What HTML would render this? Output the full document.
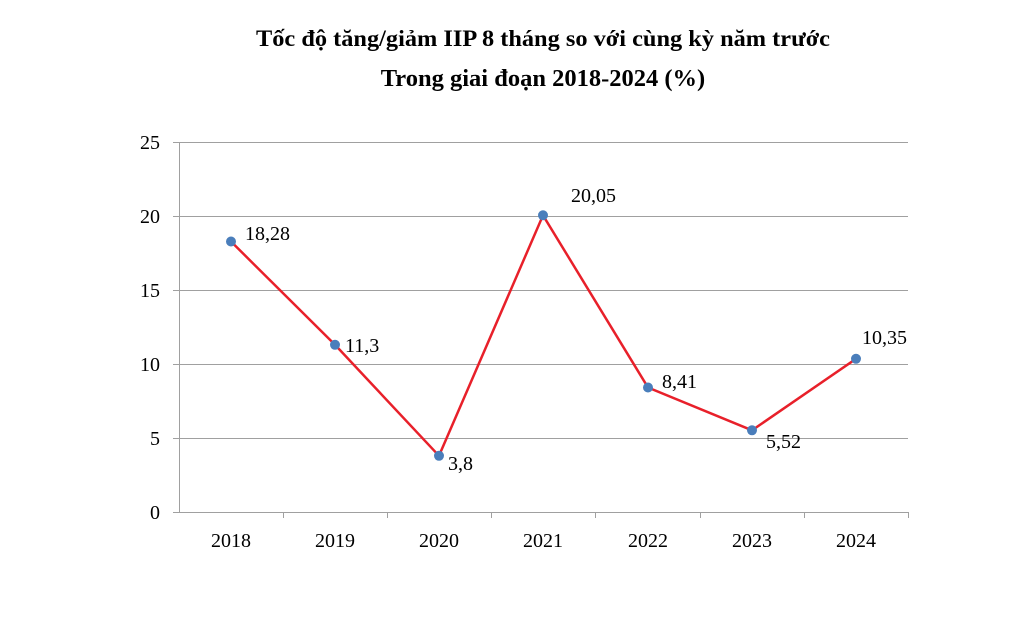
<!DOCTYPE html>
<html><head><meta charset="utf-8"><style>body{margin:0;background:#fff}</style></head><body>
<svg width="1025" height="629" xmlns="http://www.w3.org/2000/svg" font-family="Liberation Serif, serif">
<rect width="1025" height="629" fill="#fff"/>
<text x="543" y="46" text-anchor="middle" font-size="23" font-weight="bold" textLength="574" lengthAdjust="spacingAndGlyphs">Tốc độ tăng/giảm IIP 8 tháng so với cùng kỳ năm trước</text>
<text x="543" y="86" text-anchor="middle" font-size="24.5" font-weight="bold">Trong giai đoạn 2018-2024 (%)</text>
<g stroke="#a0a0a0" stroke-width="1">
<line x1="179" y1="142.5" x2="908" y2="142.5"/>
<line x1="179" y1="216.5" x2="908" y2="216.5"/>
<line x1="179" y1="290.5" x2="908" y2="290.5"/>
<line x1="179" y1="364.5" x2="908" y2="364.5"/>
<line x1="179" y1="438.5" x2="908" y2="438.5"/>
<line x1="179.5" y1="142" x2="179.5" y2="512"/>
<line x1="173" y1="142.5" x2="179" y2="142.5"/>
<line x1="173" y1="216.5" x2="179" y2="216.5"/>
<line x1="173" y1="290.5" x2="179" y2="290.5"/>
<line x1="173" y1="364.5" x2="179" y2="364.5"/>
<line x1="173" y1="438.5" x2="179" y2="438.5"/>
<line x1="173" y1="512.5" x2="908" y2="512.5"/>
<line x1="283.5" y1="512" x2="283.5" y2="518"/>
<line x1="387.5" y1="512" x2="387.5" y2="518"/>
<line x1="491.5" y1="512" x2="491.5" y2="518"/>
<line x1="595.5" y1="512" x2="595.5" y2="518"/>
<line x1="700.5" y1="512" x2="700.5" y2="518"/>
<line x1="804.5" y1="512" x2="804.5" y2="518"/>
<line x1="908.5" y1="512" x2="908.5" y2="518"/>
</g>
<g font-size="20" text-anchor="end">
<text x="160" y="149">25</text><text x="160" y="223">20</text><text x="160" y="297">15</text>
<text x="160" y="371">10</text><text x="160" y="445">5</text><text x="160" y="519">0</text>
</g>
<g font-size="20" text-anchor="middle">
<text x="231" y="547">2018</text><text x="335" y="547">2019</text><text x="439" y="547">2020</text>
<text x="543" y="547">2021</text><text x="648" y="547">2022</text><text x="752" y="547">2023</text><text x="856" y="547">2024</text>
</g>
<polyline fill="none" stroke="#e8202a" stroke-width="2.5" points="231,241.5 335,344.8 439,455.8 543,215.3 648,387.5 752,430.3 856,358.8"/>
<g fill="#4a7ebb">
<circle cx="231" cy="241.5" r="5"/><circle cx="335" cy="344.8" r="5"/><circle cx="439" cy="455.8" r="5"/>
<circle cx="543" cy="215.3" r="5"/><circle cx="648" cy="387.5" r="5"/><circle cx="752" cy="430.3" r="5"/><circle cx="856" cy="358.8" r="5"/>
</g>
<g font-size="20">
<text x="245" y="240">18,28</text><text x="345" y="352">11,3</text><text x="448" y="470">3,8</text>
<text x="571" y="202">20,05</text><text x="662" y="388">8,41</text><text x="766" y="448">5,52</text><text x="862" y="344">10,35</text>
</g>
</svg>
</body></html>
